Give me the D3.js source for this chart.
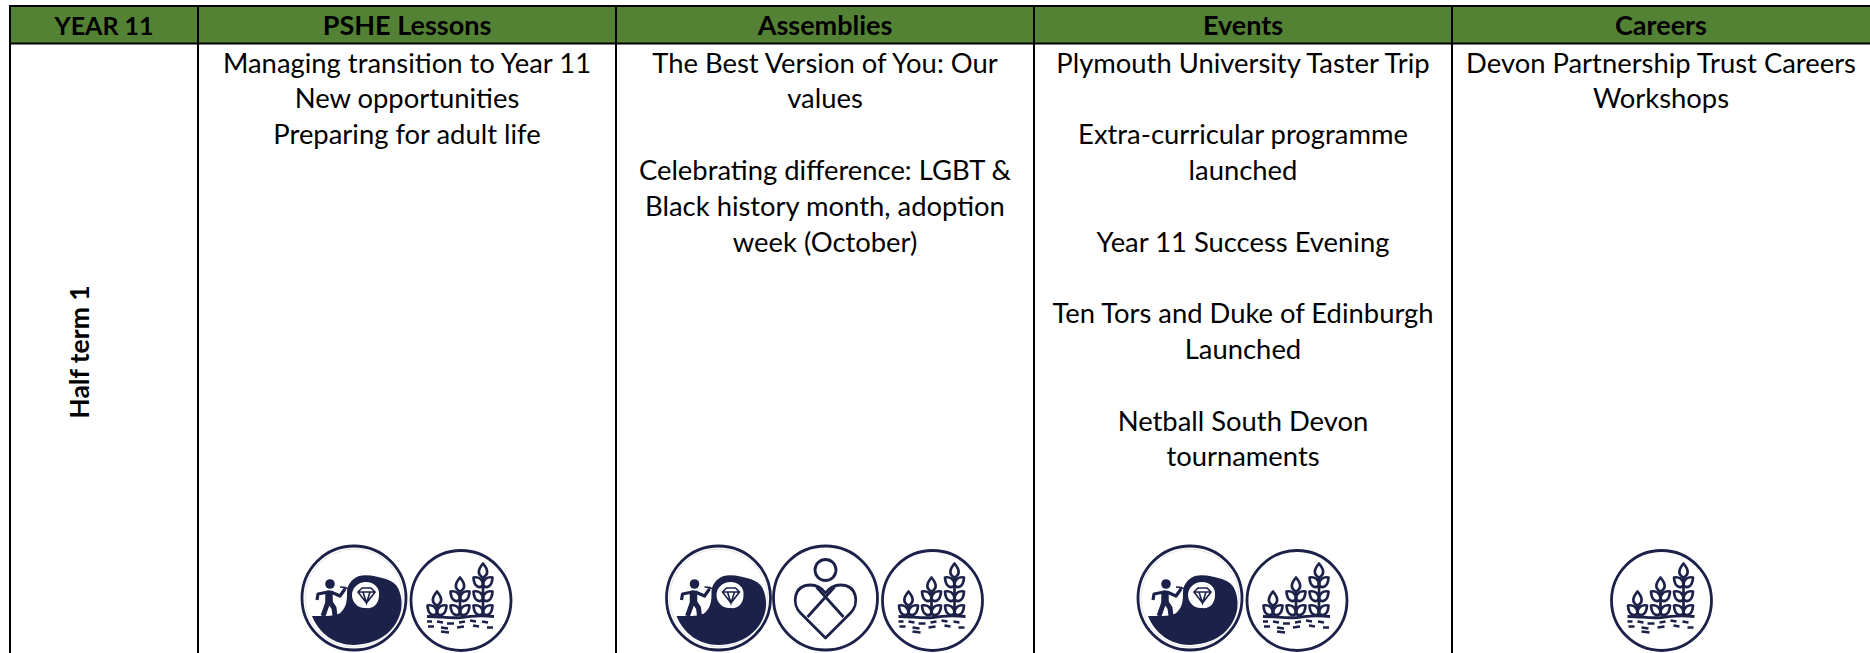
<!DOCTYPE html>
<html lang="en">
<head>
<meta charset="UTF-8" />
<title>Year 11 Half term 1</title>
<script src="https://cdn.jsdelivr.net/npm/d3@7"></script>
<style>
  html, body { margin: 0; padding: 0; background: #fff; overflow: hidden; }
  text { font-family: Lato, "Open Sans", sans-serif; fill: #000; }
</style>
</head>
<body>
<div id="chart"></div>
<script>
// table content
const rowHeader = "YEAR 11";
const columns = ["PSHE Lessons", "Assemblies", "Events", "Careers"];
const rowLabel = "Half term 1";

const pshe = ["Managing transition to Year 11", "New opportunities", "Preparing for adult life"];
const assemblies = ["The Best Version of You: Our", "values", "", "Celebrating difference: LGBT &", "Black history month, adoption", "week (October)"];
const events = ["Plymouth University Taster Trip", "", "Extra-curricular programme", "launched", "", "Year 11 Success Evening", "", "Ten Tors and Duke of Edinburgh", "Launched", "", "Netball South Devon", "tournaments"];
const careers = ["Devon Partnership Trust Careers", "Workshops"];
const cellLines = [pshe, assemblies, events, careers];

const cellIcons = [
  ["mine", "plant"],
  ["mine", "heart", "plant"],
  ["mine", "plant"],
  ["plant"]
];

const W = 1870, H = 653;
const green = "#548235", navy = "#1c2149";

const svg = d3.select("#chart").append("svg")
  .attr("width", W)
  .attr("height", H)
  .style("display", "block");

const x = d3.scaleBand().domain(columns).range([198, 1870]);
const lineY = d3.scaleLinear().domain([0, 1]).range([72.5, 108.3]);

const tableTop = 6, headBottom = 43.5, tableLeft = 10;

// header band
svg.append("rect")
  .attr("x", tableLeft).attr("y", tableTop)
  .attr("width", W - tableLeft).attr("height", headBottom - tableTop)
  .attr("fill", green);

// borders
svg.append("line").attr("x1", tableLeft - 1).attr("x2", W).attr("y1", tableTop).attr("y2", tableTop)
  .attr("stroke", "#000").attr("stroke-width", 2);
svg.append("line").attr("x1", tableLeft - 1).attr("x2", W).attr("y1", headBottom).attr("y2", headBottom)
  .attr("stroke", "#000").attr("stroke-width", 2);

const vlines = [tableLeft].concat(columns.map(d => x(d)));
svg.selectAll(".vline")
  .data(vlines)
  .enter().append("line")
  .attr("class", "vline")
  .attr("x1", d => d).attr("x2", d => d)
  .attr("y1", tableTop).attr("y2", H)
  .attr("stroke", "#000").attr("stroke-width", 2);

// header labels
svg.append("text")
  .attr("x", (tableLeft + x(columns[0])) / 2).attr("y", 34.5)
  .attr("text-anchor", "middle")
  .attr("font-size", 25).attr("font-weight", 700)
  .text(rowHeader);

svg.selectAll(".head")
  .data(columns)
  .enter().append("text")
  .attr("class", "head")
  .attr("x", d => x(d) + x.bandwidth() / 2)
  .attr("y", 34.5)
  .attr("text-anchor", "middle")
  .attr("font-size", 27).attr("font-weight", 700)
  .text(d => d);

// rotated row label
svg.append("text")
  .attr("transform", "translate(89,352) rotate(-90)")
  .attr("text-anchor", "middle")
  .attr("font-size", 26.5).attr("font-weight", 700)
  .text(rowLabel);

// cell text
columns.forEach((c, i) => {
  svg.selectAll(".cell" + i)
    .data(cellLines[i])
    .enter().append("text")
    .attr("class", "cell" + i)
    .attr("x", x(c) + x.bandwidth() / 2)
    .attr("y", (d, j) => lineY(j))
    .attr("text-anchor", "middle")
    .attr("font-size", 27.4)
    .text(d => d);
});

// icons, drawn around a centre with radius about 50
function ring(g, r) {
  g.append("circle").attr("r", r).attr("fill", "#fff")
    .attr("stroke", navy).attr("stroke-width", 2.8);
}

function mine(g) {
  ring(g, 52);
  g.append("circle").attr("r", 49).attr("fill", "none").attr("stroke", "#e4e4e8").attr("stroke-width", 1);
  g.append("path")
    .attr("fill", navy)
    .attr("d", "M-42,18 L-30,18 C-22,18 -14,17 -12,13 C-7,8 -7,0 -7,-5 C-7,-12 -4,-18 5,-22 C14,-24 24,-21 32,-19 C38,-17 42,-14 44,-10 C48,-2 48,6 47,12 C44,28 30,46 0,47 C-20,47 -35,35 -42,18 Z");
  g.append("path")
    .attr("fill", "#fff")
    .attr("d", "M12,-16 C20,-16 26,-10 25,-3 C25,6 19,11 12,10 C5,11 -2,5 -2,-3 C-2,-10 4,-16 12,-16 Z");
  g.append("path")
    .attr("fill", "none").attr("stroke", navy).attr("stroke-width", 1.6)
    .attr("d", "M4,-6 L8,-10 L17,-10 L21,-6 L12.5,5 Z M4,-6 L21,-6 M9,-6 L12.5,5 L16,-6");
  // miner
  g.append("circle").attr("cx", -24).attr("cy", -14).attr("r", 4.8).attr("fill", navy);
  g.append("path")
    .attr("fill", "none").attr("stroke", navy).attr("stroke-width", 7.5).attr("stroke-linecap", "round")
    .attr("d", "M-25,-4 L-25,3");
  g.append("path")
    .attr("fill", "none").attr("stroke", navy).attr("stroke-width", 5)
    .attr("d", "M-26,4 L-31,18 M-24,4 L-20,10 L-19,18");
  g.append("path")
    .attr("fill", "none").attr("stroke", navy).attr("stroke-width", 3.2).attr("stroke-linejoin", "round")
    .attr("d", "M-26,-6 L-36,-4 L-37,2 M-23,-6 L-14,-2 L-9,-9");
  g.append("path")
    .attr("fill", "none").attr("stroke", navy).attr("stroke-width", 1.6)
    .attr("d", "M-14,-11 C-10,-11 -6,-10 -3,-7 M-8,-11 L-12,-5");
}

function plantStem(g, px, pairs) {
  const base = 15, gap = 14;
  const leafR = "M0,0 C3,3 9,2 9.5,-8 C5,-9 0,-7 0,0";
  const leafL = "M0,0 C-3,3 -9,2 -9.5,-8 C-5,-9 0,-7 0,0";
  const s = g.append("g").attr("transform", `translate(${px},0)`)
    .attr("fill", "none").attr("stroke", navy).attr("stroke-width", 2.7).attr("stroke-linejoin", "round");
  const topY = base + 4 - pairs * gap;
  s.append("path").attr("d", `M0,${base} L0,${topY}`);
  d3.range(pairs).forEach(k => {
    const py = base - 2 - k * gap;
    s.append("path").attr("transform", `translate(0,${py})`).attr("d", leafR);
    s.append("path").attr("transform", `translate(0,${py})`).attr("d", leafL);
  });
  s.append("path").attr("transform", `translate(0,${topY})`)
    .attr("d", "M0,0 C-6,-3 -5,-8 0,-14 C5,-8 6,-3 0,0");
}

function plant(g) {
  ring(g, 50);
  plantStem(g, -24, 1);
  plantStem(g, -1, 2);
  plantStem(g, 22, 3);
  g.append("path")
    .attr("fill", "none").attr("stroke", navy).attr("stroke-width", 2.8)
    .attr("d", "M-34,16 C-20,16 -12,18 0,17 C12,15 20,15 33,16");
  g.append("path")
    .attr("fill", "none").attr("stroke", navy).attr("stroke-width", 2.6)
    .attr("d", "M-34,21 L-29,21 M-24,21 L-18,22 M-14,23 L-7,23 M-2,22 L4,21 M9,20 L15,21 M21,21 L27,22 M-33,26 L-27,26 M-20,27 L-13,28 M-4,27 L3,26 M12,25 L18,26 M26,27 L32,27 M-20,31 L-12,32");
}

function heart(g) {
  ring(g, 52);
  const h = g.append("g").attr("fill", "none").attr("stroke", navy).attr("stroke-width", 2.8).attr("stroke-linejoin", "round");
  h.append("circle").attr("cy", -28).attr("r", 10.5);
  h.append("path").attr("d", "M0,40 L-25,15 C-34,6 -32,-13 -15,-13 C-8,-13 -3,-9 0,-5 C3,-9 8,-13 15,-13 C32,-13 34,6 25,15 Z");
  h.append("path").attr("d", "M-18,19 L9,-11 M18,19 L-9,-11");
}

const iconDraw = { mine: mine, plant: plant, heart: heart };
const iconStep = 107;
// plant ring sits a little lower than the other two
const iconY = { mine: 598, heart: 598, plant: 600.5 };

columns.forEach((c, i) => {
  const list = cellIcons[i];
  const mid = x(c) + x.bandwidth() / 2 + 0.5;
  list.forEach((name, k) => {
    const g = svg.append("g")
      .attr("transform", `translate(${mid + (k - (list.length - 1) / 2) * iconStep},${iconY[name]})`);
    iconDraw[name](g);
  });
});
</script>
</body>
</html>
